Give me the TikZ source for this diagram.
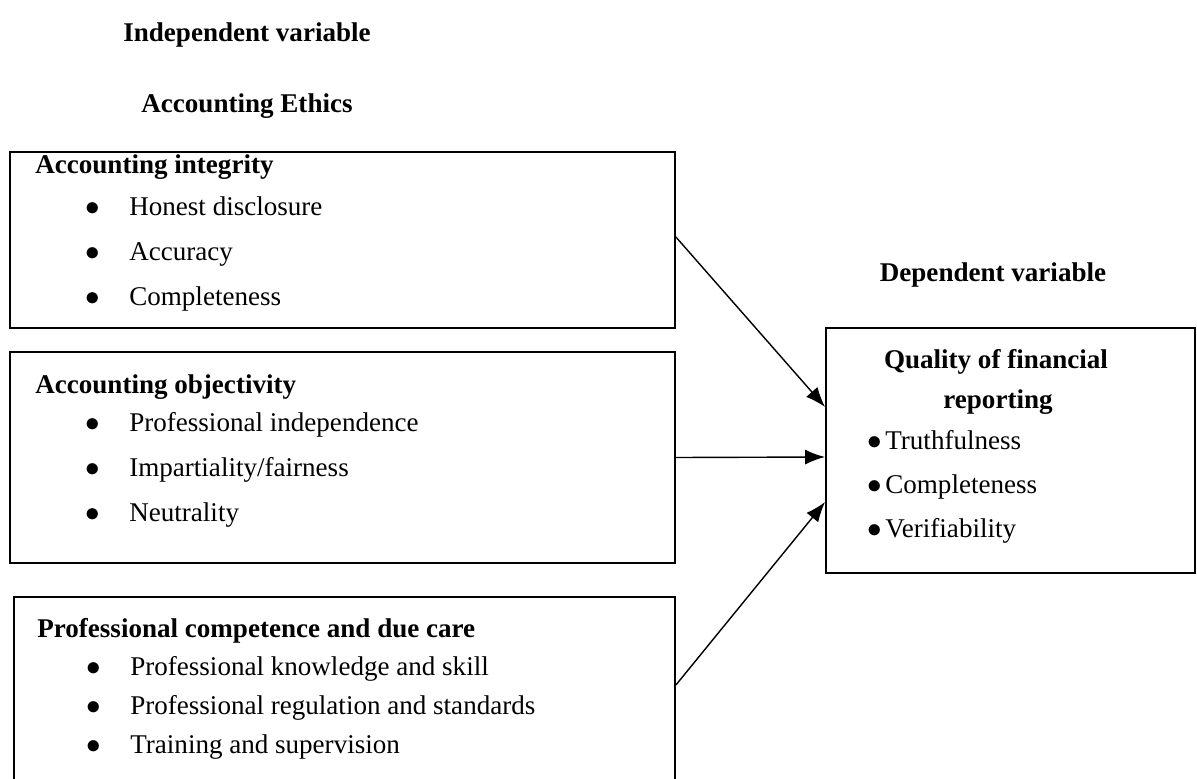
\documentclass[tikz,border=0pt]{standalone}
\usepackage{fontspec}
\setmainfont{Liberation Serif}
\usetikzlibrary{arrows.meta}
\newcommand{\mainsize}{\fontsize{15.4pt}{18pt}\selectfont}
\tikzset{
  frame/.style={draw,line width=1.1pt,minimum width=#1,inner sep=0pt},
  head/.style={anchor=base west,inner sep=0pt,font=\mainsize\bfseries},
  title/.style={anchor=base,inner sep=0pt,font=\mainsize\bfseries},
  item/.style={anchor=base west,inner sep=0pt,font=\mainsize},
  link/.style={-{Latex[length=4mm,width=3mm]},line width=0.8pt}
}
\newcommand{\bigdot}{\scalebox{1.15}{$\bullet$}}
\newcommand{\dotitem}[1]{\makebox[0.88cm][l]{\bigdot}#1}
\newcommand{\tightitem}[1]{\makebox[0.36cm][l]{\bigdot}#1}

\begin{document}
\begin{tikzpicture}[x=0.02cm,y=-0.02cm]
                \path[use as bounding box,clip] (0,0) rectangle (1197,778);

                % Titles
                \node[title] (indep) at (247,41) {Independent variable};
                \node[title] (ethics) at (247,112) {Accounting Ethics};
                \node[title] (dep) at (993,281) {Dependent variable};

                % Boxes
                \node[frame=13.3cm,minimum height=3.52cm] (integ) at (342.5,240) {};
                \node[frame=13.3cm,minimum height=4.22cm] (objec) at (342.5,457.5) {};
                \node[frame=13.22cm,minimum height=4.06cm] (compe) at (344.5,698.5) {};
                \node[frame=7.38cm,minimum height=4.9cm] (qual) at (1010.5,450.5) {};

                % Accounting integrity
                \node[head] (integh) at (35,173) {Accounting integrity};
                \foreach \txt [count=\i] in {Honest disclosure, Accuracy, Completeness}
                    \node[item] (integ\i) at (85,{170+45*\i}) {\dotitem{\txt}};

                % Accounting objectivity
                \node[head] (objech) at (35,393) {Accounting objectivity};
                \foreach \txt [count=\i] in {Professional independence, Impartiality/fairness, Neutrality}
                    \node[item] (objec\i) at (85,{386+45*\i}) {\dotitem{\txt}};

                % Professional competence
                \node[head] (compeh) at (37,637) {Professional competence and due care};
                \foreach \txt [count=\i] in {Professional knowledge and skill, Professional regulation and standards, Training and supervision}
                    \node[item] (compe\i) at (86,{636+39*\i}) {\dotitem{\txt}};

                % Quality of financial reporting
                \node[title] (qualh1) at (996,368) {Quality of financial};
                \node[title] (qualh2) at (998,408) {reporting};
                \foreach \txt [count=\i] in {Truthfulness, Completeness, Verifiability}
                    \node[item] (qual\i) at (867,{405+44*\i}) {\tightitem{\txt}};

                % Links
                \draw[link] ([yshift=0.06cm]integ.east) -- ([yshift=0.87cm]qual.west);
                \draw[link] (objec.east) -- ([yshift=-0.13cm]qual.west);
                \draw[link] ([yshift=0.27cm]compe.east) -- ([yshift=-1.03cm]qual.west);
            \end{tikzpicture}
\end{document}
